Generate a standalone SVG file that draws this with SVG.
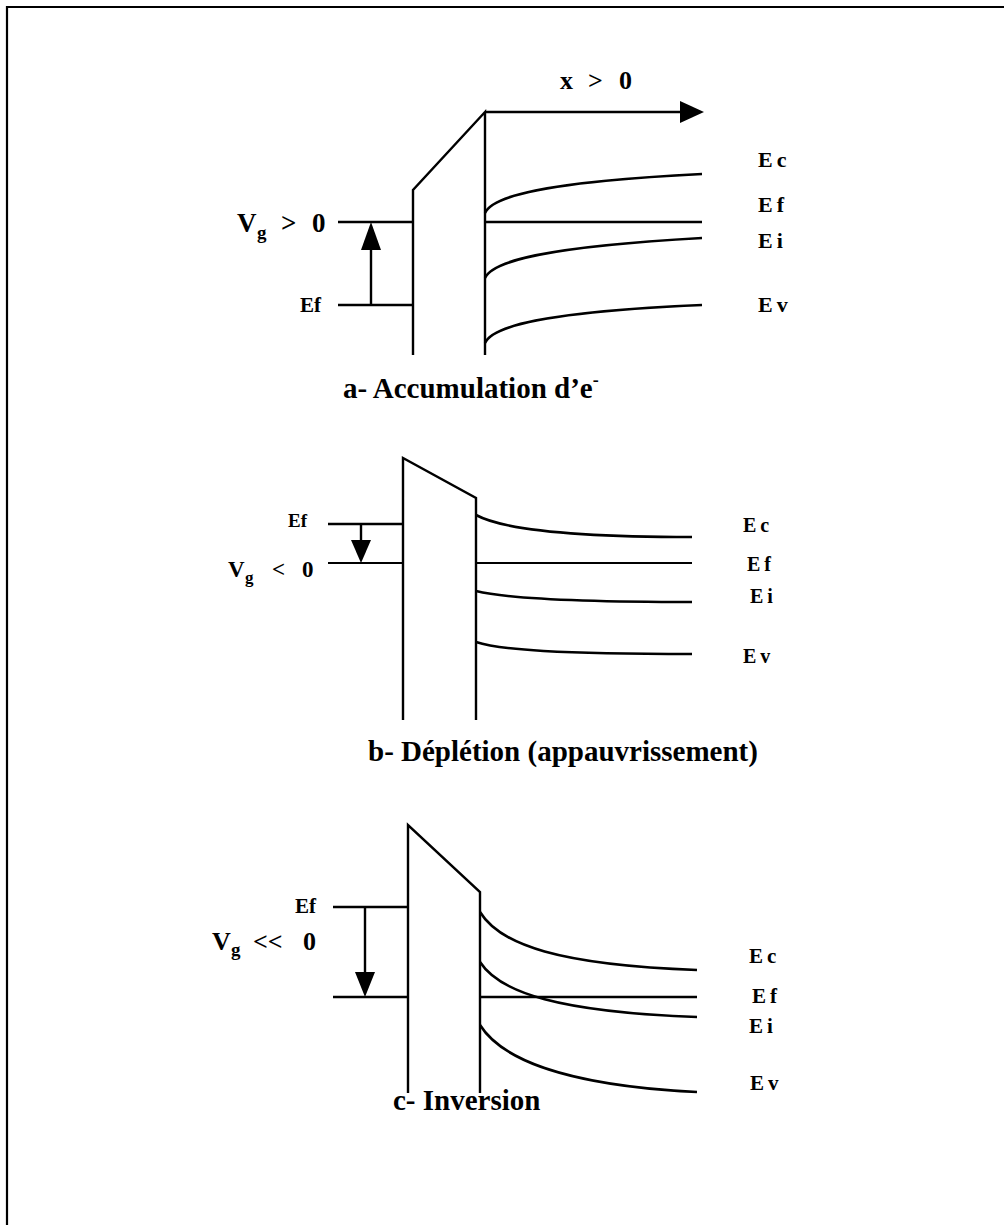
<svg xmlns="http://www.w3.org/2000/svg" width="1004" height="1225" viewBox="0 0 1004 1225">
<style>
.ln{fill:none;stroke:#000;stroke-width:2.4;stroke-linecap:butt;stroke-linejoin:miter}
.cv{fill:none;stroke:#000;stroke-width:2.6}
.hd{fill:#000;stroke:none}
.lb{font-family:"Liberation Serif","Times New Roman",serif;font-weight:bold;fill:#000}
.en{letter-spacing:4px}
.cap{font-family:"Liberation Serif","Times New Roman",serif;font-weight:bold;font-size:29px;fill:#000}
</style>
<rect width="1004" height="1225" fill="#fff"/>
<path d="M7,1225 V7 H1004" fill="none" stroke="#000" stroke-width="2.2"/>

<g id="panel-a">
  <path class="ln" d="M413,355 V190 L485,112 V355"/>
  <path class="ln" d="M485,112 H682"/>
  <polygon class="hd" points="680,101 704,112 680,123"/>
  <path class="ln" d="M338,222 H413 M338,305 H413 M371,305 V248"/>
  <polygon class="hd" points="361,250 371,222 381,250"/>
  <path class="ln" d="M485,222 H702"/>
  <path class="cv" d="M485,213 C492,197 540,182 702,174"/>
  <path class="cv" d="M485,278 C492,262 540,247 702,238"/>
  <path class="cv" d="M485,343 C492,327 540,312 702,305"/>
  <text class="lb" x="560" y="89" font-size="26">x</text>
  <text class="lb" x="588" y="89" font-size="26">&gt;</text>
  <text class="lb" x="619" y="89" font-size="26">0</text>
  <text class="lb" x="237" y="232" font-size="27">V</text>
  <text class="lb" x="257" y="239" font-size="19">g</text>
  <text class="lb" x="281" y="232" font-size="27">&gt;</text>
  <text class="lb" x="312" y="232" font-size="27">0</text>
  <text class="lb" x="300" y="312" font-size="21">Ef</text>
  <text class="lb en" x="758" y="167" font-size="22">Ec</text>
  <text class="lb en" x="758" y="212" font-size="22">Ef</text>
  <text class="lb en" x="758" y="248" font-size="22">Ei</text>
  <text class="lb en" x="758" y="312" font-size="22">Ev</text>
  <text class="cap" x="343" y="398">a- Accumulation d’e<tspan font-size="18" dy="-12">-</tspan></text>
</g>

<g id="panel-b">
  <path class="ln" d="M403,720 V458 L476,498 V720"/>
  <path class="ln" d="M328,524 H403 M361,524 V542"/>
  <path d="M328,563 H403" fill="none" stroke="#000" stroke-width="1.8"/>
  <polygon class="hd" points="351,540 361,563 371,540"/>
  <path d="M476,563 H692" fill="none" stroke="#000" stroke-width="2"/>
  <path class="cv" d="M476,515 C500,528 560,537 692,537"/>
  <path class="cv" d="M476,591 C500,597 560,602 692,602"/>
  <path class="cv" d="M476,642 C500,650 560,654 692,654"/>
  <text class="lb" x="228" y="577" font-size="23">V</text>
  <text class="lb" x="245" y="583" font-size="17">g</text>
  <text class="lb" x="272" y="577" font-size="23">&lt;</text>
  <text class="lb" x="302" y="577" font-size="23">0</text>
  <text class="lb" x="288" y="527" font-size="19">Ef</text>
  <text class="lb en" x="743" y="532" font-size="20">Ec</text>
  <text class="lb en" x="747" y="571" font-size="20">Ef</text>
  <text class="lb en" x="750" y="603" font-size="20">Ei</text>
  <text class="lb en" x="743" y="663" font-size="20">Ev</text>
  <text class="cap" x="368" y="761">b- Déplétion (appauvrissement)</text>
</g>

<g id="panel-c">
  <path class="ln" d="M408,1093 V825 L480,892 V1093"/>
  <path class="ln" d="M333,907 H408 M333,997 H408 M365,907 V974"/>
  <polygon class="hd" points="355,972 365,997 375,972"/>
  <path class="ln" d="M480,997 H697"/>
  <path class="cv" d="M480,912 C500,945 560,965 697,970"/>
  <path class="cv" d="M480,962 C500,993 560,1012 697,1017"/>
  <path class="cv" d="M480,1025 C500,1057 560,1085 697,1092"/>
  <text class="lb" x="212" y="950" font-size="26">V</text>
  <text class="lb" x="231" y="956" font-size="19">g</text>
  <text class="lb" x="253" y="950" font-size="26">&lt;&lt;</text>
  <text class="lb" x="303" y="950" font-size="26">0</text>
  <text class="lb" x="295" y="913" font-size="21">Ef</text>
  <text class="lb en" x="749" y="963" font-size="21">Ec</text>
  <text class="lb en" x="752" y="1003" font-size="21">Ef</text>
  <text class="lb en" x="749" y="1033" font-size="21">Ei</text>
  <text class="lb en" x="750" y="1090" font-size="21">Ev</text>
  <text class="cap" x="393" y="1110">c- Inversion</text>
</g>
</svg>
